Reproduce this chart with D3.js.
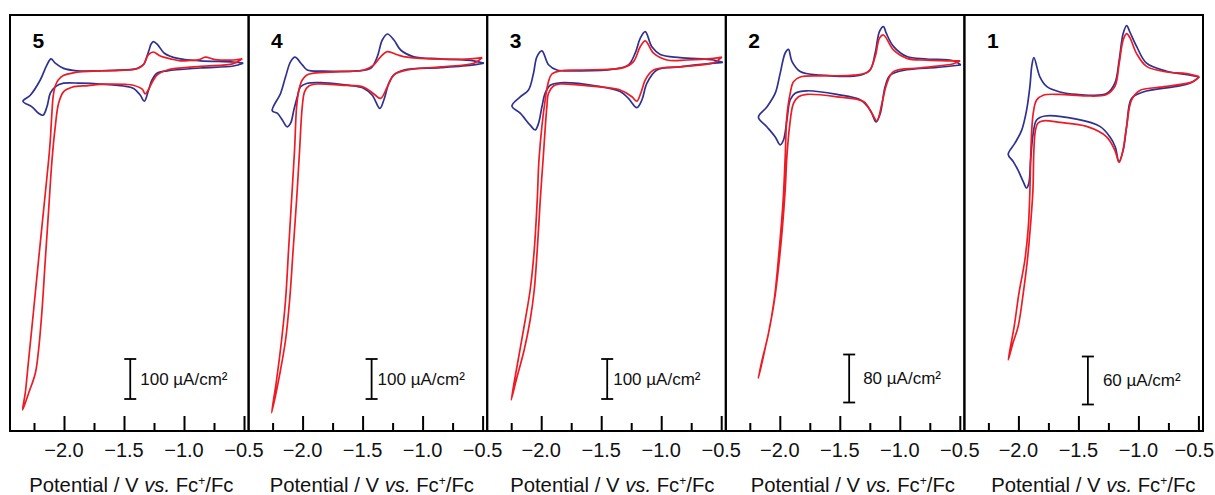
<!DOCTYPE html>
<html><head><meta charset="utf-8">
<script src="https://cdn.jsdelivr.net/npm/d3@7"></script>
<style>html,body{margin:0;padding:0;background:#fff;}svg{display:block;}</style>
</head><body>
<script>
const panelLabels = ["5","4","3","2","1"];
const scaleBarValues = [100,100,100,80,60];
const scaleBarUnit = "µA/cm²";
const scaleBarE = [-1.448,-1.425,-1.45,-1.422,-1.421];
const majorTicks = [-2.0,-1.5,-1.0,-0.5];
const minorTicks = [-2.25,-1.75,-1.25,-0.75];
const xDomain = [-2.45,-0.4617];
const yMin = [-877.5,-877.5,-877.5,-585,-438.75];
const yMax = [162.5,162.5,162.5,108.3,81.25];

// [potential V, current µA/cm²]
const blue5 = [[-0.506,42],[-0.589,45],[-0.864,48],[-1.053,54],[-1.164,67],[-1.219,88],[-1.255,96],[-1.274,90],[-1.291,75],[-1.308,60],[-1.333,40],[-1.383,30],[-1.416,27],[-1.698,23],[-1.889,23],[-2.003,29],[-2.073,42],[-2.108,53],[-2.142,38],[-2.198,0],[-2.281,-38],[-2.342,-53],
[-2.267,-67],[-2.212,-83],[-2.175,-88],[-2.142,-67],[-2.114,-33],[-2.073,-17],[-2.003,-8],[-1.864,-8],[-1.698,-10],[-1.503,-15],[-1.42,-21],[-1.364,-38],[-1.331,-53],[-1.295,-25],[-1.267,0],[-1.225,17],[-1.139,23],[-0.864,30],[-0.589,35],[-0.506,42]];
const red5 = [[-0.514,53],[-0.589,50],[-0.739,51],[-0.823,57],[-0.873,51],[-0.948,49],[-1.031,48],[-1.114,53],[-1.198,60],[-1.256,70],[-1.298,63],[-1.339,38],[-1.389,28],[-1.531,24],[-1.698,23],[-1.923,18],[-2.006,11],[-2.048,0],[-2.073,-15],[-2.089,-38],[-2.102,-88],[-2.114,-150],[-2.128,-200],[-2.170,-325],[-2.212,-450],[-2.253,-575],[-2.295,-700],[-2.323,-783],[-2.345,-825],
[-2.295,-783],[-2.239,-733],[-2.212,-675],[-2.183,-575],[-2.156,-450],[-2.128,-325],[-2.100,-200],[-2.073,-117],[-2.045,-58],[-2.003,-29],[-1.933,-18],[-1.798,-14],[-1.698,-11],[-1.489,-11],[-1.423,-13],[-1.348,-23],[-1.323,-35],[-1.298,-25],[-1.273,-10],[-1.248,3],[-1.223,13],[-1.139,25],[-0.864,34],[-0.589,41],[-0.514,53]];
const blue4 = [[-0.489,42],[-0.573,48],[-0.85,53],[-1.073,58],[-1.183,75],[-1.239,100],[-1.294,115],[-1.336,100],[-1.378,58],[-1.433,29],[-1.544,23],[-1.823,22],[-1.961,25],[-2.003,38],[-2.064,57],[-2.1,46],[-2.142,8],[-2.183,-33],[-2.253,-77],
[-2.211,-83],[-2.169,-100],[-2.128,-117],[-2.1,-108],[-2.073,-75],[-2.044,-42],[-2.017,-17],[-1.961,-8],[-1.823,-7],[-1.628,-13],[-1.489,-21],[-1.419,-38],[-1.356,-71],[-1.323,-50],[-1.281,-8],[-1.239,13],[-1.156,25],[-0.85,31],[-0.573,38],[-0.489,42]];
const red4 = [[-0.503,56],[-0.6,53],[-0.85,52],[-1.128,57],[-1.211,63],[-1.294,71],[-1.35,58],[-1.406,38],[-1.489,25],[-1.683,21],[-1.906,17],[-1.961,13],[-2.003,0],[-2.031,-25],[-2.05,-67],[-2.067,-175],[-2.092,-300],[-2.117,-425],[-2.142,-550],[-2.175,-650],[-2.217,-750],[-2.258,-832],
[-2.225,-788],[-2.192,-738],[-2.142,-650],[-2.108,-550],[-2.079,-425],[-2.05,-300],[-2.025,-175],[-2.003,-67],[-1.983,-29],[-1.948,-15],[-1.878,-10],[-1.683,-13],[-1.489,-18],[-1.406,-35],[-1.35,-46],[-1.294,-17],[-1.239,13],[-1.128,25],[-0.85,33],[-0.573,42],[-0.503,56]];
const blue3 = [[-0.486,44],[-0.564,50],[-0.842,56],[-1.008,64],[-1.078,83],[-1.133,121],[-1.175,104],[-1.217,67],[-1.273,38],[-1.398,27],[-1.675,23],[-1.869,25],[-1.939,38],[-1.994,73],[-2.036,58],[-2.064,17],[-2.106,-25],[-2.175,-42],[-2.244,-65],
[-2.175,-83],[-2.092,-113],[-2.05,-125],[-2.022,-108],[-1.994,-67],[-1.967,-33],[-1.925,-13],[-1.842,-7],[-1.536,-15],[-1.342,-29],[-1.273,-46],[-1.203,-69],[-1.161,-50],[-1.119,-8],[-1.036,25],[-0.842,33],[-0.564,42],[-0.486,44]];
const red3 = [[-0.494,57],[-0.564,54],[-0.786,50],[-0.953,50],[-1.064,67],[-1.133,98],[-1.175,83],[-1.231,46],[-1.314,31],[-1.675,25],[-1.842,23],[-1.911,15],[-1.939,-4],[-1.967,-50],[-2.017,-193],[-2.033,-300],[-2.058,-425],[-2.092,-525],[-2.133,-600],[-2.192,-700],[-2.25,-800],
[-2.208,-750],[-2.142,-675],[-2.092,-600],[-2.058,-525],[-2.033,-425],[-2.008,-300],[-1.983,-193],[-1.953,-67],[-1.939,-33],[-1.898,-15],[-1.842,-10],[-1.675,-13],[-1.342,-25],[-1.244,-42],[-1.203,-53],[-1.167,-30],[-1.133,0],[-1.064,25],[-0.842,33],[-0.564,43],[-0.494,57]];
const blue2 = [[-0.491,25],[-0.553,32],[-0.774,35],[-0.941,39],[-1.053,56],[-1.113,78],[-1.136,89],[-1.169,81],[-1.205,45],[-1.247,17],[-1.33,8],[-1.663,8],[-1.83,14],[-1.899,31],[-1.928,51],[-1.955,45],[-1.997,11],[-2.038,-22],[-2.108,-45],[-2.178,-62],
[-2.108,-78],[-2.038,-95],[-1.997,-108],[-1.969,-100],[-1.941,-67],[-1.913,-33],[-1.872,-22],[-1.774,-18],[-1.524,-24],[-1.33,-33],[-1.247,-50],[-1.197,-70],[-1.163,-56],[-1.122,-11],[-1.08,8],[-0.941,17],[-0.691,21],[-0.491,25]];
const red2 = [[-0.497,32],[-0.608,32],[-0.774,33],[-0.941,36],[-1.053,50],[-1.136,75],[-1.169,70],[-1.205,39],[-1.261,14],[-1.386,8],[-1.663,7],[-1.83,5],[-1.886,-3],[-1.913,-22],[-1.941,-61],[-1.955,-128],[-1.972,-200],[-2.005,-283],[-2.047,-367],[-2.097,-425],[-2.143,-463],[-2.18,-497],
[-2.155,-477],[-2.122,-447],[-2.08,-408],[-2.038,-358],[-2.013,-317],[-1.98,-250],[-1.955,-183],[-1.941,-128],[-1.919,-78],[-1.886,-39],[-1.844,-28],[-1.774,-24],[-1.524,-28],[-1.302,-36],[-1.232,-56],[-1.191,-68],[-1.149,-39],[-1.108,-6],[-1.053,14],[-0.83,20],[-0.553,27],[-0.497,32]];
const blue1 = [[-0.493,4],[-0.571,6],[-0.765,11],[-0.932,21],[-1.015,42],[-1.071,60],[-1.098,68],[-1.127,58],[-1.16,25],[-1.196,-4],[-1.265,-17],[-1.515,-18],[-1.654,-15],[-1.765,-8],[-1.821,4],[-1.871,28],[-1.888,18],[-1.904,-8],[-1.932,-38],[-1.973,-63],[-2.029,-79],[-2.085,-93],
[-2.043,-102],[-2.002,-113],[-1.96,-127],[-1.932,-135],[-1.913,-129],[-1.898,-100],[-1.877,-67],[-1.848,-50],[-1.779,-45],[-1.515,-49],[-1.321,-58],[-1.238,-71],[-1.192,-84],[-1.163,-102],[-1.127,-88],[-1.098,-58],[-1.057,-23],[-0.96,-15],[-0.682,-8],[-0.571,-4],[-0.493,4]];
const red1 = [[-0.493,4],[-0.598,8],[-0.765,10],[-0.932,17],[-1.015,33],[-1.071,53],[-1.098,58],[-1.127,50],[-1.16,21],[-1.196,-8],[-1.265,-18],[-1.432,-20],[-1.654,-18],[-1.793,-19],[-1.848,-25],[-1.877,-42],[-1.896,-88],[-1.904,-138],[-1.917,-183],[-1.946,-225],[-1.996,-267],[-2.035,-308],[-2.085,-350],
[-2.046,-329],[-2.002,-308],[-1.96,-267],[-1.925,-225],[-1.9,-183],[-1.879,-138],[-1.871,-88],[-1.858,-63],[-1.838,-54],[-1.793,-51],[-1.654,-53],[-1.432,-58],[-1.265,-71],[-1.196,-88],[-1.16,-103],[-1.129,-88],[-1.098,-58],[-1.057,-25],[-0.988,-13],[-0.821,-9],[-0.543,-2],[-0.493,4]];

const blueSeries = [blue5, blue4, blue3, blue2, blue1];
const redSeries = [red5, red4, red3, red2, red1];

const W = 1215, H = 495;
const FONT = "'Liberation Sans', Arial, Helvetica, sans-serif";
const BLUE = "#2e3192", RED = "#ed1c24";
const panelW = 238.6, plotTop = 15, plotBottom = 431, left0 = 10;
const barTextGap = [10, 6, 6, 14, 15];
const barCenterY = [379, 379, 379, 378.5, 380.5];

const svg = d3.select("body").append("svg").attr("width", W).attr("height", H);
svg.append("rect").attr("width", W).attr("height", H).attr("fill", "#fff");

panelLabels.forEach((lab, i) => {
  const L = left0 + i * panelW;
  const x = d3.scaleLinear().domain(xDomain).range([L, L + panelW]);
  const y = d3.scaleLinear().domain([yMin[i], yMax[i]]).range([plotBottom, plotTop]);
  const g = svg.append("g");
  const line = d3.line().x(d => x(d[0])).y(d => y(d[1])).curve(d3.curveCatmullRom.alpha(0.5));

  const clip = "clip" + i;
  svg.append("clipPath").attr("id", clip).append("rect").attr("x", L).attr("y", plotTop).attr("width", panelW).attr("height", plotBottom - plotTop);
  const plot = g.append("g").attr("clip-path", `url(#${clip})`);
  plot.append("path").datum(blueSeries[i]).attr("d", line).attr("fill", "none").attr("stroke", BLUE).attr("stroke-width", 1.7).attr("stroke-linejoin", "round");
  plot.append("path").datum(redSeries[i]).attr("d", line).attr("fill", "none").attr("stroke", RED).attr("stroke-width", 1.7).attr("stroke-linejoin", "round");

  const axMaj = d3.axisTop(x).tickValues(majorTicks).tickSize(15).tickFormat("");
  const axMin = d3.axisTop(x).tickValues(minorTicks).tickSize(8).tickFormat("");
  [axMaj, axMin].forEach(ax => {
    const a = g.append("g").attr("transform", `translate(0,${plotBottom})`).call(ax);
    a.select(".domain").remove();
    a.selectAll("line").attr("stroke", "#000").attr("stroke-width", 2);
  });
  g.selectAll(".tl").data(majorTicks).enter().append("text")
    .attr("x", d => (i === 4 && d === -0.5) ? W - 1 : x(d))
    .attr("y", 456.5)
    .attr("text-anchor", d => (i === 4 && d === -0.5) ? "end" : "middle")
    .attr("font-family", FONT).attr("font-size", 20).attr("fill", "#111")
    .text(d => d3.format(".1f")(d).replace("-", "\u2212"));

  g.append("rect").attr("x", L).attr("y", plotTop).attr("width", panelW).attr("height", plotBottom - plotTop)
    .attr("fill", "none").attr("stroke", "#000").attr("stroke-width", 2);

  g.append("text").attr("x", L + 22.5).attr("y", 48.3).attr("font-family", FONT)
    .attr("font-weight", "bold").attr("font-size", 21).attr("fill", "#000").text(lab);

  const bx = x(scaleBarE[i]);
  const half = Math.abs(y(0) - y(scaleBarValues[i])) / 2;
  const cy = barCenterY[i];
  const sb = g.append("g").attr("stroke", "#000").attr("stroke-width", 1.8);
  sb.append("line").attr("x1", bx).attr("x2", bx).attr("y1", cy - half).attr("y2", cy + half);
  sb.append("line").attr("x1", bx - 6).attr("x2", bx + 6).attr("y1", cy - half).attr("y2", cy - half);
  sb.append("line").attr("x1", bx - 6).attr("x2", bx + 6).attr("y1", cy + half).attr("y2", cy + half);
  g.append("text").attr("x", bx + barTextGap[i]).attr("y", cy).attr("dy", "0.35em")
    .attr("font-family", FONT).attr("font-size", 17).attr("fill", "#111")
    .text(scaleBarValues[i] + " " + scaleBarUnit);

  const t = g.append("text").attr("x", 131.3 + 240.5 * i).attr("y", 492).attr("text-anchor", "middle")
    .attr("font-family", FONT).attr("font-size", 20.3).attr("fill", "#111");
  t.append("tspan").text("Potential / V ");
  t.append("tspan").attr("font-style", "italic").text("vs.");
  t.append("tspan").text(" Fc");
  t.append("tspan").attr("font-size", 12).attr("dy", -7).text("+");
  t.append("tspan").attr("dy", 7).text("/Fc");
});
</script>
</body></html>
